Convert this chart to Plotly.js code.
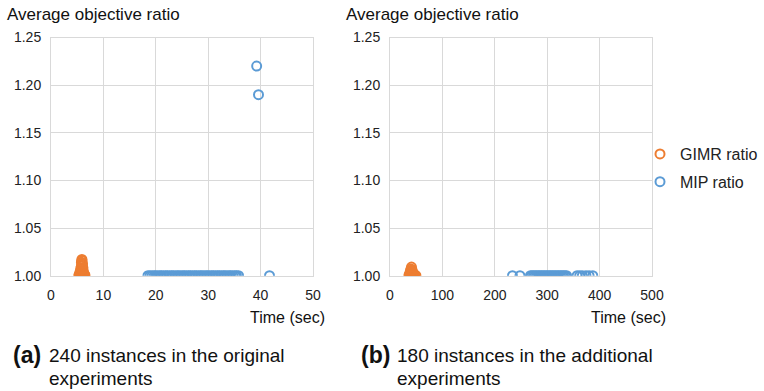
<!DOCTYPE html>
<html><head><meta charset="utf-8">
<script src="https://cdn.plot.ly/plotly-3.0.1.min.js"></script>
<style>html,body{margin:0;padding:0;background:#fff}#c{width:764px;height:391px}</style>
</head><body><div id="c"></div>
<script>
// (a) 240 instances in the original experiments
const gimrA_x = [5.3,5.5,5.7,5.9,6.1,6.3,6.5,5.4,5.6,5.8,6.0,6.2,6.4,5.5,5.7,5.9,6.1,6.3,5.6,5.8,6.0,6.2,5.7,5.9,6.1,5.8,6.0,5.9,5.8,6.0,5.9,5.9];
const gimrA_y = [1.000,1.000,1.000,1.000,1.000,1.000,1.000,1.001,1.001,1.001,1.001,1.001,1.001,1.003,1.003,1.003,1.003,1.002,1.005,1.005,1.005,1.004,1.008,1.007,1.008,1.010,1.011,1.012,1.014,1.013,1.016,1.017];
const mipA_x = [18.5,18.9,19.3,19.7,20.0,20.4,20.8,21.1,21.5,21.9,22.2,22.6,23.0,23.3,23.7,24.1,24.4,24.8,25.2,25.5,25.9,26.3,26.6,27.0,27.4,27.7,28.1,28.5,28.8,29.2,29.6,29.9,30.3,30.7,31.0,31.4,31.8,32.1,32.5,32.9,33.2,33.6,34.0,34.3,34.7,35.1,35.4,35.8,41.7,39.25,39.6];
const mipA_y = [1,1,1,1,1,1,1,1,1,1,1,1,1,1,1,1,1,1,1,1,1,1,1,1,1,1,1,1,1,1,1,1,1,1,1,1,1,1,1,1,1,1,1,1,1,1,1,1,1,1.22,1.19];
// (b) 180 instances in the additional experiments
const gimrB_x = [36,38,40,42,44,46,48,49.5,37,39,41,43,45,47,38,40,42,44,39,41,43,40,42,41];
const gimrB_y = [1.000,1.000,1.000,1.000,1.000,1.000,1.000,1.000,1.001,1.001,1.001,1.001,1.001,1.001,1.003,1.003,1.003,1.002,1.005,1.005,1.004,1.007,1.006,1.009];
const mipB_x = [233.7,248,268,271,274,277,280,283,286,289,292,295,298,301,304,307,310,313,316,319,322,325,328,331,334,337,357,362,367,374,380,387];
const mipB_y = [1,1,1,1,1,1,1,1,1,1,1,1,1,1,1,1,1,1,1,1,1,1,1,1,1,1,1,1,1,1,1,1];

const orange = '#ED7D31', blue = '#5B9BD5';
const FONT = 'Liberation Sans, Arial, sans-serif';
const mk = c => ({symbol:'circle-open', size:9, line:{width:2, color:c}, color:c});
const traces = [
  {x:gimrA_x, y:gimrA_y, type:'scatter', mode:'markers', name:'GIMR ratio', legendgroup:'g', marker:mk(orange), xaxis:'x', yaxis:'y'},
  {x:mipA_x, y:mipA_y, type:'scatter', mode:'markers', name:'MIP ratio', legendgroup:'m', marker:mk(blue), xaxis:'x', yaxis:'y'},
  {x:gimrB_x, y:gimrB_y, type:'scatter', mode:'markers', name:'GIMR ratio', legendgroup:'g', marker:mk(orange), xaxis:'x2', yaxis:'y2', showlegend:false},
  {x:mipB_x, y:mipB_y, type:'scatter', mode:'markers', name:'MIP ratio', legendgroup:'m', marker:mk(blue), xaxis:'x2', yaxis:'y2', showlegend:false}
];
const W=764, H=391;
const px = v => v/W, py = v => 1 - v/H;
const tickFont = {family:FONT, size:14, color:'#222'};
const ax = (dom, range, dtick, standoff) => ({domain:dom, range:range, dtick:dtick, showgrid:true, gridcolor:'#d9d9d9', gridwidth:1,
  showline:true, linecolor:'#d9d9d9', mirror:true, zeroline:false, ticks:'', tickfont:tickFont, ticklabelstandoff:standoff, fixedrange:true});
const ydom = [py(275.7), py(37.5)];
const layout = {
  width:W, height:H, margin:{l:0,r:0,t:0,b:0,autoexpand:false}, paper_bgcolor:'#fff', plot_bgcolor:'#fff',
  xaxis: ax([px(51),px(313)], [0,50], 10, 6),
  yaxis: Object.assign(ax(ydom,[1,1.25],0.05, 6), {tickformat:'.2f', anchor:'x'}),
  xaxis2: Object.assign(ax([px(390),px(652)], [0,500], 100, 6), {anchor:'y2'}),
  yaxis2: Object.assign(ax(ydom,[1,1.25],0.05, 6), {tickformat:'.2f', anchor:'x2'}),
  showlegend:true,
  legend:{x:px(640), y:py(137), xanchor:'left', yanchor:'top', font:{family:FONT, size:16, color:'#222'},
    itemwidth:30, tracegroupgap:4, bgcolor:'rgba(0,0,0,0)'},
  annotations:[
    {text:'Average objective ratio', xref:'paper', yref:'paper', x:px(5), y:py(15), xanchor:'left', yanchor:'middle', showarrow:false, font:{family:FONT, size:17, color:'#111'}},
    {text:'Average objective ratio', xref:'paper', yref:'paper', x:px(344), y:py(15), xanchor:'left', yanchor:'middle', showarrow:false, font:{family:FONT, size:17, color:'#111'}},
    {text:'Time (sec)', xref:'paper', yref:'paper', x:px(327), y:py(317), xanchor:'right', yanchor:'middle', showarrow:false, font:{family:FONT, size:16, color:'#111'}},
    {text:'Time (sec)', xref:'paper', yref:'paper', x:px(668), y:py(317), xanchor:'right', yanchor:'middle', showarrow:false, font:{family:FONT, size:16, color:'#111'}},
    {text:'<b>(a)</b>', xref:'paper', yref:'paper', x:px(11), y:py(355), xanchor:'left', yanchor:'middle', showarrow:false, font:{family:FONT, size:23, color:'#111'}},
    {text:'240 instances in the original', xref:'paper', yref:'paper', x:px(47), y:py(355), xanchor:'left', yanchor:'middle', showarrow:false, font:{family:FONT, size:19, color:'#111'}},
    {text:'experiments', xref:'paper', yref:'paper', x:px(47), y:py(378), xanchor:'left', yanchor:'middle', showarrow:false, font:{family:FONT, size:19, color:'#111'}},
    {text:'<b>(b)</b>', xref:'paper', yref:'paper', x:px(359), y:py(355), xanchor:'left', yanchor:'middle', showarrow:false, font:{family:FONT, size:23, color:'#111'}},
    {text:'180 instances in the additional', xref:'paper', yref:'paper', x:px(395), y:py(355), xanchor:'left', yanchor:'middle', showarrow:false, font:{family:FONT, size:19, color:'#111'}},
    {text:'experiments', xref:'paper', yref:'paper', x:px(395), y:py(378), xanchor:'left', yanchor:'middle', showarrow:false, font:{family:FONT, size:19, color:'#111'}}
  ]
};
Plotly.newPlot('c', traces, layout, {displayModeBar:false, staticPlot:true});
</script></body></html>
